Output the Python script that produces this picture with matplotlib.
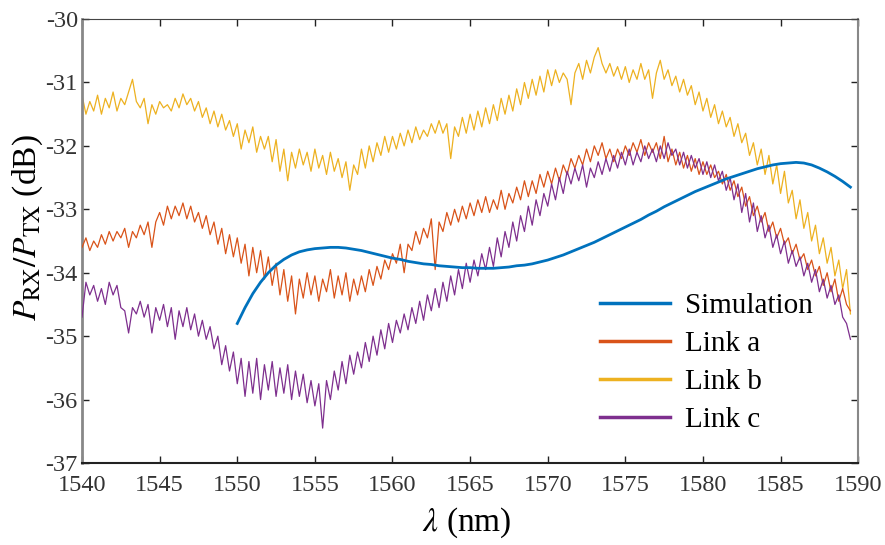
import numpy as np
import matplotlib
matplotlib.use("Agg")
import matplotlib.pyplot as plt

# ---------------- data ----------------
x_start, x_step = 1540.0, 0.25

link_b = [
-31.20,-31.50,-31.30,-31.45,-31.20,-31.50,-31.25,-31.40,-31.15,-31.45,-31.25,-31.35,-31.15,-30.95,-31.30,-31.40,
-31.25,-31.65,-31.35,-31.50,-31.30,-31.40,-31.35,-31.45,-31.25,-31.40,-31.18,-31.35,-31.25,-31.45,-31.30,-31.55,
-31.40,-31.65,-31.45,-31.70,-31.50,-31.75,-31.60,-31.85,-31.65,-32.05,-31.75,-31.95,-31.70,-32.10,-31.85,-32.05,
-31.85,-32.25,-31.90,-32.40,-32.05,-32.55,-32.10,-32.35,-32.05,-32.30,-32.10,-32.40,-32.05,-32.35,-32.15,-32.45,
-32.10,-32.40,-32.20,-32.50,-32.25,-32.70,-32.30,-32.45,-32.05,-32.35,-32.00,-32.25,-31.95,-32.15,-31.85,-32.10,
-31.85,-32.05,-31.80,-32.00,-31.75,-31.95,-31.70,-31.90,-31.75,-31.85,-31.65,-31.80,-31.60,-31.80,-31.65,-32.20,
-31.70,-31.85,-31.55,-31.80,-31.50,-31.75,-31.45,-31.70,-31.40,-31.65,-31.35,-31.60,-31.25,-31.50,-31.20,-31.45,
-31.10,-31.35,-31.00,-31.25,-30.95,-31.20,-30.90,-31.15,-30.80,-31.05,-30.80,-31.00,-30.85,-30.95,-31.35,-30.85,
-30.70,-30.95,-30.65,-30.85,-30.60,-30.45,-30.70,-30.85,-30.70,-30.90,-30.75,-30.95,-30.75,-31.00,-30.80,-30.95,
-30.70,-30.95,-30.80,-31.25,-30.85,-30.65,-30.95,-30.80,-31.05,-30.90,-31.15,-30.95,-31.20,-31.05,-31.35,-31.15,
-31.45,-31.25,-31.55,-31.35,-31.65,-31.45,-31.70,-31.55,-31.85,-31.65,-31.95,-31.80,-32.15,-31.95,-32.30,-32.05,
-32.45,-32.15,-32.60,-32.30,-32.75,-32.40,-32.90,-32.70,-33.15,-32.85,-33.30,-33.05,-33.50,-33.25,-33.70,-33.45,
-33.85,-33.60,-34.05,-33.80,-34.25,-33.95,-34.65]

link_a = [
-33.60,-33.45,-33.65,-33.50,-33.60,-33.40,-33.55,-33.35,-33.50,-33.35,-33.45,-33.30,-33.60,-33.35,-33.45,-33.25,
-33.40,-33.20,-33.60,-33.20,-33.05,-33.25,-32.95,-33.15,-32.95,-33.10,-32.90,-33.15,-32.95,-33.20,-33.05,-33.30,
-33.10,-33.40,-33.20,-33.55,-33.30,-33.70,-33.40,-33.75,-33.45,-33.85,-33.55,-34.05,-33.60,-34.00,-33.65,-34.10,
-33.75,-34.20,-33.85,-34.35,-33.95,-34.45,-34.05,-34.65,-34.10,-34.40,-34.00,-34.35,-34.05,-34.45,-34.10,-34.30,
-33.95,-34.40,-34.05,-34.35,-34.00,-34.45,-34.10,-34.35,-34.05,-34.30,-33.95,-34.20,-33.90,-34.10,-33.80,-33.95,
-33.70,-33.85,-33.55,-34.00,-33.55,-33.65,-33.35,-33.55,-33.30,-33.45,-33.15,-33.95,-33.20,-33.35,-33.05,-33.25,
-33.00,-33.20,-32.95,-33.15,-32.90,-33.10,-32.85,-33.05,-32.80,-33.05,-32.85,-33.00,-32.70,-33.00,-32.75,-32.90,
-32.65,-32.85,-32.55,-32.80,-32.55,-32.75,-32.45,-32.65,-32.40,-32.60,-32.35,-32.55,-32.30,-32.45,-32.20,-32.35,
-32.15,-32.30,-32.05,-32.25,-32.00,-32.15,-31.95,-32.20,-32.05,-32.25,-32.05,-32.20,-32.00,-32.15,-31.95,-32.10,
-31.90,-32.15,-31.95,-32.10,-31.95,-32.20,-31.85,-32.25,-32.05,-32.30,-32.10,-32.35,-32.15,-32.40,-32.20,-32.45,
-32.25,-32.45,-32.30,-32.50,-32.40,-32.60,-32.45,-32.70,-32.55,-32.80,-32.65,-32.95,-32.80,-33.10,-32.95,-33.20,
-33.05,-33.35,-33.20,-33.45,-33.30,-33.55,-33.45,-33.70,-33.55,-33.80,-33.70,-33.95,-33.80,-34.05,-33.90,-34.20,
-34.00,-34.30,-34.10,-34.45,-34.25,-34.50,-34.60]

link_c = [
-34.70,-34.15,-34.35,-34.20,-34.45,-34.25,-34.50,-34.15,-34.35,-34.20,-34.55,-34.60,-34.95,-34.55,-34.65,-34.45,
-34.70,-34.50,-34.95,-34.55,-34.75,-34.50,-34.85,-34.55,-35.05,-34.60,-34.85,-34.55,-34.90,-34.65,-35.00,-34.75,
-35.05,-34.85,-35.20,-35.00,-35.45,-35.15,-35.55,-35.25,-35.75,-35.35,-35.95,-35.40,-35.90,-35.35,-36.00,-35.45,
-35.85,-35.40,-35.95,-35.50,-35.90,-35.45,-36.00,-35.55,-35.95,-35.60,-36.05,-35.70,-36.10,-35.75,-36.45,-35.70,
-36.00,-35.55,-35.85,-35.40,-35.75,-35.30,-35.60,-35.25,-35.50,-35.10,-35.40,-35.00,-35.30,-34.90,-35.20,-34.80,
-35.10,-34.75,-34.95,-34.65,-34.90,-34.55,-34.80,-34.45,-34.75,-34.35,-34.60,-34.25,-34.55,-34.15,-34.45,-34.05,
-34.35,-33.95,-34.25,-33.85,-34.15,-33.80,-34.05,-33.70,-33.95,-33.60,-33.90,-33.45,-33.75,-33.35,-33.60,-33.20,
-33.50,-33.10,-33.35,-32.95,-33.25,-32.85,-33.10,-32.75,-32.95,-32.60,-32.85,-32.50,-32.75,-32.40,-32.60,-32.35,
-32.55,-32.30,-32.65,-32.35,-32.50,-32.25,-32.45,-32.20,-32.40,-32.15,-32.35,-32.10,-32.30,-32.05,-32.30,-32.10,
-32.25,-32.00,-32.20,-32.05,-32.25,-32.00,-32.20,-31.95,-32.15,-32.05,-32.30,-32.10,-32.35,-32.15,-32.35,-32.20,
-32.45,-32.25,-32.50,-32.30,-32.55,-32.40,-32.70,-32.50,-32.85,-32.60,-33.05,-32.75,-33.20,-32.90,-33.35,-33.10,
-33.45,-33.25,-33.60,-33.40,-33.70,-33.50,-33.85,-33.65,-33.90,-33.75,-34.05,-33.85,-34.15,-33.95,-34.30,-34.10,
-34.40,-34.20,-34.50,-34.35,-34.70,-34.80,-35.05]

sim_start, sim_step = 1550.0, 0.5
simulation = [
-34.80,-34.55,-34.33,-34.15,-34.00,-33.88,-33.79,-33.72,-33.67,-33.64,-33.62,-33.61,-33.60,-33.60,-33.61,-33.63,
-33.65,-33.68,-33.71,-33.74,-33.77,-33.79,-33.82,-33.84,-33.86,-33.87,-33.89,-33.90,-33.91,-33.92,-33.92,-33.93,
-33.93,-33.93,-33.92,-33.91,-33.89,-33.88,-33.86,-33.83,-33.80,-33.76,-33.72,-33.67,-33.62,-33.57,-33.52,-33.46,
-33.40,-33.34,-33.28,-33.22,-33.16,-33.09,-33.03,-32.96,-32.90,-32.84,-32.78,-32.72,-32.67,-32.62,-32.57,-32.52,
-32.48,-32.44,-32.40,-32.36,-32.33,-32.30,-32.28,-32.27,-32.26,-32.27,-32.30,-32.35,-32.41,-32.48,-32.56,-32.65]

labels = ["Simulation", "Link a", "Link b", "Link c"]
colors = ["#0072BD", "#D95319", "#EDB120", "#7E2F8E"]
xticks = [1540, 1545, 1550, 1555, 1560, 1565, 1570, 1575, 1580, 1585, 1590]
yticks = [-37, -36, -35, -34, -33, -32, -31, -30]

# ---------------- plot ----------------
plt.rcParams['font.family'] = ['Liberation Serif', 'DejaVu Serif']
plt.rcParams['mathtext.fontset'] = 'stix'

fig = plt.figure(figsize=(8.85, 5.45), dpi=100)
ax = fig.add_axes([0.0927, 0.1505, 0.877, 0.8145])

xl = x_start + x_step * np.arange(len(link_a))
xs = sim_start + sim_step * np.arange(len(simulation))

ax.plot(xs, simulation, color=colors[0], lw=2.0, label=labels[0], zorder=5)
ax.plot(xl, link_a, color=colors[1], lw=0.9, label=labels[1], zorder=3)
ax.plot(xl, link_b, color=colors[2], lw=0.9, label=labels[2], zorder=2)
ax.plot(xl, link_c, color=colors[3], lw=0.9, label=labels[3], zorder=4)

ax.set_xlim(1540, 1590)
ax.set_ylim(-37, -30)
ax.set_xticks(xticks)
ax.set_xticklabels([str(t) for t in xticks])
ax.set_yticks(yticks)
ax.set_yticklabels(["-" + str(abs(t)) for t in yticks])

ax.tick_params(direction='in', length=5, width=1, top=True, right=True,
               labelsize=17.5, colors='#222222', labelcolor='#333333')
ax.tick_params(axis='y', pad=3)
ax.tick_params(axis='x', pad=9)

ax.spines['left'].set_color('#888888')
ax.spines['left'].set_linewidth(2)
ax.spines['right'].set_color('#888888')
ax.spines['right'].set_linewidth(1.5)
ax.spines['top'].set_color('#444444')
ax.spines['bottom'].set_color('#222222')
ax.spines['bottom'].set_linewidth(1.5)

ax.set_xlabel(r'$\lambda$ (nm)', fontsize=24)
ax.xaxis.set_label_coords(0.495, -0.095)
ax.set_ylabel(r'$P_{\mathrm{RX}}/P_{\mathrm{TX}}$ (dB)', fontsize=24)
ax.yaxis.set_label_coords(-0.048, 0.53)

handles, labs = ax.get_legend_handles_labels()
leg = ax.legend(handles, labs, loc='lower right', bbox_to_anchor=(0.964, 0.027),
                frameon=False, fontsize=21, handlelength=2.4, handletextpad=0.5,
                labelspacing=0.4, borderaxespad=0.2)
for h in leg.get_lines():
    h.set_linewidth(2.5)

fig.savefig("out.png", dpi=100)
